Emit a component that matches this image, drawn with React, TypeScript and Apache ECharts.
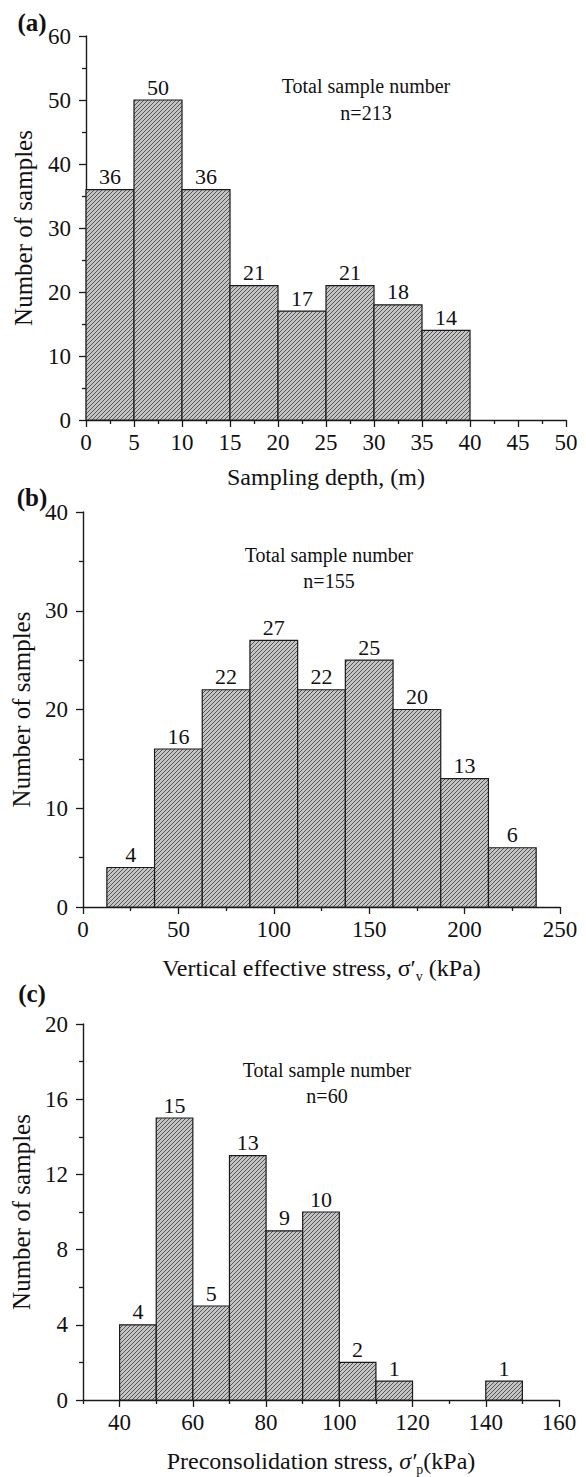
import React, { useEffect, useRef } from 'react';
import * as echarts from 'echarts';

// ---------- data ----------
const depthStarts = [0, 5, 10, 15, 20, 25, 30, 35];
const depthBinWidth = 5;
const depthCounts = [36, 50, 36, 21, 17, 21, 18, 14];

const vStressStarts = [12.5, 37.5, 62.5, 87.5, 112.5, 137.5, 162.5, 187.5, 212.5];
const vStressBinWidth = 25;
const vStressCounts = [4, 16, 22, 27, 22, 25, 20, 13, 6];

const pStressStarts = [40, 50, 60, 70, 80, 90, 100, 110, 140];
const pStressBinWidth = 10;
const pStressCounts = [4, 15, 5, 13, 9, 10, 2, 1, 1];
const pStressMajorTicks = [40, 60, 80, 100, 120, 140, 160];
const pStressMinorTicks = [30, 50, 70, 90, 110, 130, 150];

const totals = ['n=213', 'n=155', 'n=60'];
const panelLetters = ['(a)', '(b)', '(c)'];

const FONT = '"Liberation Serif", "Times New Roman", serif';
const INK = '#1a1a1a';

function makePattern() {
  const c = document.createElement('canvas');
  c.width = 4;
  c.height = 4;
  const ctx = c.getContext('2d')!;
  ctx.fillStyle = '#c4c4c4';
  ctx.fillRect(0, 0, 4, 4);
  ctx.strokeStyle = '#4a4a4a';
  ctx.lineWidth = 0.9;
  ctx.beginPath();
  ctx.moveTo(-1, 5); ctx.lineTo(5, -1);
  ctx.moveTo(-1, 1); ctx.lineTo(1, -1);
  ctx.moveTo(3, 5); ctx.lineTo(5, 3);
  ctx.stroke();
  return { image: c, repeat: 'repeat', imageWidth: 4, imageHeight: 4 };
}

export default function App() {
  const ref = useRef<HTMLDivElement>(null);
  useEffect(() => {
    if (!ref.current) return;
    const chart = echarts.init(ref.current, null, { renderer: 'svg' });
    const pattern = makePattern();

    const hist = (xi: number, yi: number, starts: number[], w: number, counts: number[]) => ({
      type: 'custom',
      xAxisIndex: xi,
      yAxisIndex: yi,
      clip: false,
      data: starts.map((s, i) => [s, s + w, counts[i]]),
      renderItem: (params: any, api: any) => {
        const p0 = api.coord([api.value(0), api.value(2)]);
        const p1 = api.coord([api.value(1), 0]);
        return {
          type: 'group',
          children: [
            {
              type: 'rect',
              shape: { x: p0[0], y: p0[1], width: p1[0] - p0[0], height: p1[1] - p0[1] },
              style: { fill: pattern, stroke: INK, lineWidth: 1.2 },
            },
            {
              type: 'text',
              style: {
                x: (p0[0] + p1[0]) / 2,
                y: p0[1] - 2,
                text: String(api.value(2)),
                align: 'center',
                verticalAlign: 'bottom',
                font: `22px ${FONT}`,
                fill: '#111',
              },
            },
          ],
        };
      },
    });

    const axisLine = { show: true, lineStyle: { color: INK, width: 1.4 } };
    const tick = { show: true, length: 7, lineStyle: { color: INK, width: 1.3 } };
    const minor = { show: true, splitNumber: 2, length: 4, lineStyle: { color: INK, width: 1.3 } };
    const tickLabel = { color: '#111', fontSize: 23, fontFamily: FONT };
    const nameStyle = { color: '#111', fontSize: 24, fontFamily: FONT };

    const yAxisBase = (gi: number, max: number, interval: number, gap: number) => ({
      type: 'value', gridIndex: gi, min: 0, max, interval,
      name: 'Number of samples', nameLocation: 'middle', nameRotate: 90, nameGap: gap,
      nameTextStyle: { ...nameStyle, fontSize: 25 },
      axisLine, axisTick: tick, minorTick: minor,
      axisLabel: { ...tickLabel, margin: 15 },
      splitLine: { show: false },
    });

    const richSub = {
      t: { fontSize: 24, fontFamily: FONT, color: '#111', lineHeight: 30, verticalAlign: 'middle' },
      i: { fontSize: 24, fontFamily: FONT, color: '#111', lineHeight: 30, fontStyle: 'italic', verticalAlign: 'middle' },
      s: { fontSize: 14, fontFamily: FONT, color: '#111', lineHeight: 30, verticalAlign: 'bottom' },
    };

    const textEl = (x: number, y: number, text: string, font: string) => ({
      type: 'text', x, y,
      style: { text, font, fill: '#111', align: 'center', verticalAlign: 'middle' },
    });

    const option: any = {
      animation: false,
      textStyle: { fontFamily: FONT },
      grid: [
        { left: 86, right: 20, top: 36, height: 384 },
        { left: 83, right: 26, top: 512, height: 395 },
        { left: 83, right: 27, top: 1024, height: 380 },
      ],
      xAxis: [
        {
          type: 'value', gridIndex: 0, min: 0, max: 50, interval: 5,
          name: 'Sampling depth, (m)', nameLocation: 'middle', nameGap: 45, nameTextStyle: nameStyle,
          axisLine, axisTick: tick, minorTick: minor,
          axisLabel: { ...tickLabel, margin: 11 }, splitLine: { show: false },
        },
        {
          type: 'value', gridIndex: 1, min: 0, max: 250, interval: 50,
          name: '{t|Vertical effective stress, σ′}{s|v}{t| (kPa)}', nameLocation: 'middle', nameGap: 46,
          nameTextStyle: { ...nameStyle, rich: richSub },
          axisLine, axisTick: tick, minorTick: minor,
          axisLabel: { ...tickLabel, margin: 11 }, splitLine: { show: false },
        },
        {
          type: 'value', gridIndex: 2, min: 30, max: 160, interval: 10, position: 'bottom',
          name: '{t|Preconsolidation stress, }{i|σ′}{s|p}{t|(kPa)}', nameLocation: 'middle', nameGap: 46,
          nameTextStyle: { ...nameStyle, rich: richSub },
          axisLine,
          axisTick: { ...tick, customValues: pStressMajorTicks },
          axisLabel: { ...tickLabel, margin: 11, customValues: pStressMajorTicks },
          splitLine: { show: false },
        },
        {
          type: 'value', gridIndex: 2, min: 30, max: 160, interval: 10, position: 'bottom',
          axisLine: { show: false },
          axisTick: { show: true, length: 4, lineStyle: { color: INK, width: 1.3 }, customValues: pStressMinorTicks },
          axisLabel: { show: false },
          splitLine: { show: false },
        },
      ],
      yAxis: [
        yAxisBase(0, 60, 10, 50),
        yAxisBase(1, 40, 10, 48),
        yAxisBase(2, 20, 4, 48),
      ],
      series: [
        hist(0, 0, depthStarts, depthBinWidth, depthCounts),
        hist(1, 1, vStressStarts, vStressBinWidth, vStressCounts),
        hist(2, 2, pStressStarts, pStressBinWidth, pStressCounts),
      ],
      graphic: [
        textEl(32, 22, panelLetters[0], `bold 25px ${FONT}`),
        textEl(32, 497, panelLetters[1], `bold 25px ${FONT}`),
        textEl(32, 993, panelLetters[2], `bold 25px ${FONT}`),
        textEl(366, 86, 'Total sample number', `20px ${FONT}`),
        textEl(366, 113, totals[0], `20px ${FONT}`),
        textEl(329, 555, 'Total sample number', `20px ${FONT}`),
        textEl(329, 581, totals[1], `20px ${FONT}`),
        textEl(327, 1070, 'Total sample number', `20px ${FONT}`),
        textEl(327, 1096, totals[2], `20px ${FONT}`),
      ],
    };
    chart.setOption(option);
    return () => chart.dispose();
  }, []);
  return (
    <div
      ref={ref}
      style={{ position: 'absolute', left: 0, top: 0, width: 586, height: 1477, background: '#fff' }}
    />
  );
}
